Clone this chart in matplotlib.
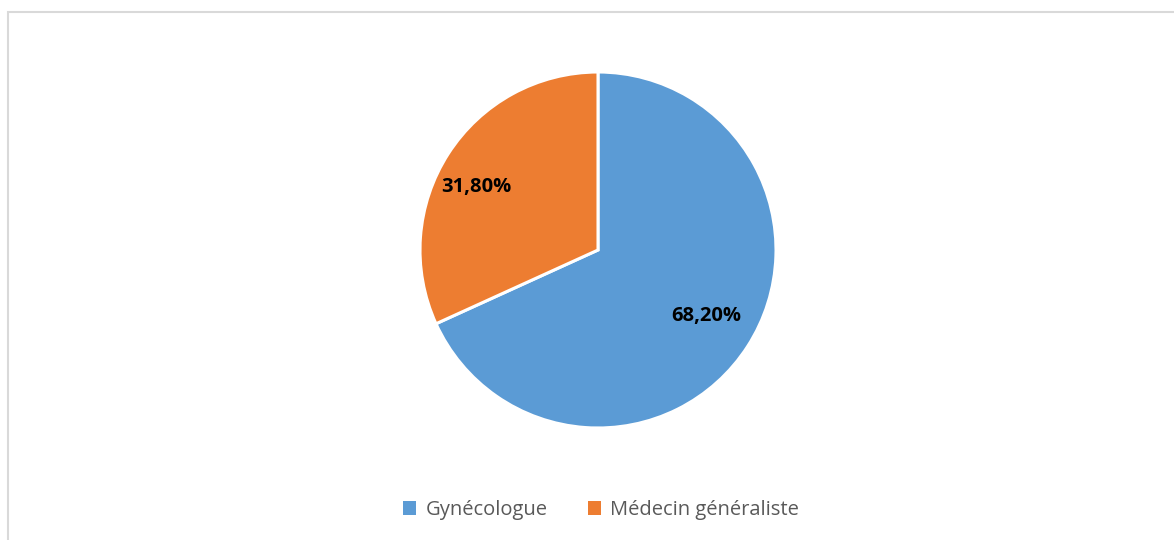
import numpy as np
import matplotlib.pyplot as plt
from matplotlib.patches import Rectangle

categories = ["Gynécologue", "Médecin généraliste"]
values = [68.20, 31.80]
colors = ["#5B9BD5", "#ED7D31"]

plt.rcParams['font.family'] = ['Open Sans', 'DejaVu Sans']

fig = plt.figure(figsize=(11.74, 5.40), dpi=100)
ax = fig.add_axes([0, 0, 1, 1])

cx, cy, r = 598, 290, 178
wedges, texts, autotexts = ax.pie(
    values, colors=colors, startangle=90, counterclock=False,
    center=(cx, cy), radius=r, frame=True,
    autopct=lambda p: f"{p:.2f}%".replace('.', ','), pctdistance=0.74,
    wedgeprops=dict(edgecolor='white', linewidth=2.2),
    textprops=dict(fontsize=14.5, fontweight='bold', color='black'))

# nudge labels to where the original puts them
label_pos = [(0.71, -31.5), (0.77, 152.5)]
for t, (d, a) in zip(autotexts, label_pos):
    t.set_position((cx + d * r * np.cos(np.radians(a)), cy + d * r * np.sin(np.radians(a))))

ax.set_xlim(0, 1174)
ax.set_ylim(0, 540)
ax.axis('off')

# chart border
fig.patches.append(Rectangle((8 / 1174, -0.1), 1.2, 0.1 + (540 - 12) / 540, transform=fig.transFigure,
                             fill=False, edgecolor='#D9D9D9', linewidth=1.5))

leg = fig.legend(wedges, categories, loc='center', bbox_to_anchor=(601 / 1174, 1 - 510 / 540),
                 ncol=2, frameon=False, fontsize=14.5, handlelength=0.65, handleheight=0.65,
                 handletextpad=0.45, columnspacing=2.0, labelcolor='#595959')
for h in leg.legend_handles:
    h.set_edgecolor('none')

fig.savefig('out.png', dpi=100)
